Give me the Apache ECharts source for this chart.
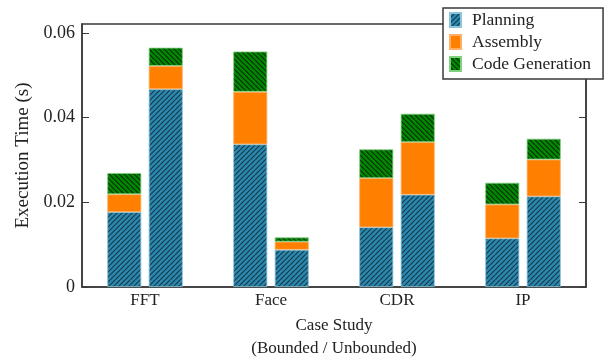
<!DOCTYPE html>
<html>
<head>
<meta charset="utf-8">
<script src="https://cdn.jsdelivr.net/npm/echarts@6/dist/echarts.min.js"></script>
<style>
  html, body { margin: 0; padding: 0; background: #fff; }
  #chart { width: 605px; height: 358px; }
</style>
</head>
<body>
<div id="chart"></div>
<script>
// Case studies on the x axis
const categories = ['FFT', 'Face', 'CDR', 'IP'];

// Execution time per phase (seconds), bounded runs
const planningBounded = [0.0177, 0.0337, 0.0141, 0.0115];
const assemblyBounded = [0.0042, 0.0124, 0.0116, 0.0080];
const codegenBounded  = [0.0050, 0.0095, 0.0068, 0.0051];

// Execution time per phase (seconds), unbounded runs
const planningUnbounded = [0.0467, 0.0088, 0.0218, 0.0214];
const assemblyUnbounded = [0.0055, 0.0019, 0.0124, 0.0087];
const codegenUnbounded  = [0.0043, 0.0010, 0.0067, 0.0049];

// Y axis ticks
const yTicks = [0, 0.02, 0.04, 0.06];
const yMax = 0.0621;

const FONT = 'Liberation Serif';
const INK = '#222';
const AXIS = '#3a3a3a';

// Diagonal hatch fill; dir = 1 draws "///", dir = -1 draws "\\\"
function hatch(base, line, dir) {
  const s = 5;
  const c = document.createElement('canvas');
  c.width = s; c.height = s;
  const g = c.getContext('2d');
  g.fillStyle = base;
  g.fillRect(0, 0, s, s);
  g.strokeStyle = line;
  g.lineWidth = 1.2;
  for (const k of [-s, 0, s]) {
    g.beginPath();
    if (dir > 0) { g.moveTo(k, s); g.lineTo(k + s, 0); }
    else { g.moveTo(k, 0); g.lineTo(k + s, s); }
    g.stroke();
  }
  return { image: c, repeat: 'repeat' };
}

const phases = [
  { name: 'Planning', fill: hatch('#2b88ae', '#18394a', 1), edge: '#8cc4da' },
  { name: 'Assembly', fill: '#ff8000', edge: '#ffb066' },
  { name: 'Code Generation', fill: hatch('#008a00', '#0b2a0b', -1), edge: '#7fcf7f' }
];

const boundedData = [planningBounded, assemblyBounded, codegenBounded];
const unboundedData = [planningUnbounded, assemblyUnbounded, codegenUnbounded];

const series = [];
[['bounded', boundedData], ['unbounded', unboundedData]].forEach(([stack, sets]) => {
  phases.forEach((p, i) => {
    series.push({
      name: p.name,
      type: 'bar',
      stack: stack,
      data: sets[i],
      barWidth: 34,
      barGap: '22%',
      itemStyle: { color: p.fill, borderColor: p.edge, borderWidth: 0.8 },
      emphasis: { disabled: true }
    });
  });
});

const chart = echarts.init(document.getElementById('chart'), null, { renderer: 'canvas', width: 605, height: 358 });
chart.setOption({
  animation: false,
  backgroundColor: '#fff',
  textStyle: { fontFamily: FONT, color: INK },
  grid: {
    left: 82, right: 19, top: 24, bottom: 71,
    outerBoundsMode: 'none',
    containLabel: false,
    show: true, borderColor: AXIS, borderWidth: 1.5, backgroundColor: 'transparent'
  },
  legend: {
    orient: 'vertical',
    left: 443, top: 8,
    padding: [3, 12, 6, 6],
    itemGap: 4,
    itemWidth: 11, itemHeight: 14,
    icon: 'rect',
    backgroundColor: '#fff',
    borderColor: AXIS, borderWidth: 1.5, borderRadius: 0,
    textStyle: { fontFamily: FONT, fontSize: 17.5, color: INK, padding: [0, 0, 0, 6] },
    data: phases.map(p => p.name),
    z: 10
  },
  xAxis: {
    type: 'category',
    data: categories,
    name: 'Case Study\n(Bounded / Unbounded)',
    nameLocation: 'middle',
    nameGap: 25,
    nameTextStyle: { fontFamily: FONT, fontSize: 17, color: INK, lineHeight: 23 },
    axisLine: { lineStyle: { color: AXIS, width: 1.5 } },
    axisTick: { show: false },
    axisLabel: { fontFamily: FONT, fontSize: 17, color: INK, margin: 5 }
  },
  yAxis: [
    {
      type: 'value',
      min: yTicks[0], max: yMax, interval: yTicks[1] - yTicks[0],
      name: 'Execution Time (s)',
      nameLocation: 'middle',
      nameGap: 43,
      nameTextStyle: { fontFamily: FONT, fontSize: 19, color: INK },
      axisLine: { show: true, lineStyle: { color: AXIS, width: 1.5 } },
      axisTick: { show: true, inside: true, length: 7, lineStyle: { color: AXIS, width: 1 } },
      axisLabel: {
        fontFamily: FONT, fontSize: 18, color: INK, margin: 7, showMaxLabel: false,
        formatter: v => (yTicks.indexOf(+v.toFixed(4)) >= 0 ? String(+v.toFixed(4)) : '')
      },
      splitLine: { show: false }
    },
    {
      type: 'value',
      position: 'right',
      min: yTicks[0], max: yMax, interval: yTicks[1] - yTicks[0],
      axisLine: { show: true, lineStyle: { color: AXIS, width: 1.5 } },
      axisTick: { show: true, inside: true, length: 7, lineStyle: { color: AXIS, width: 1 } },
      axisLabel: { show: false },
      splitLine: { show: false }
    }
  ],
  series: series
});
</script>
</body>
</html>
